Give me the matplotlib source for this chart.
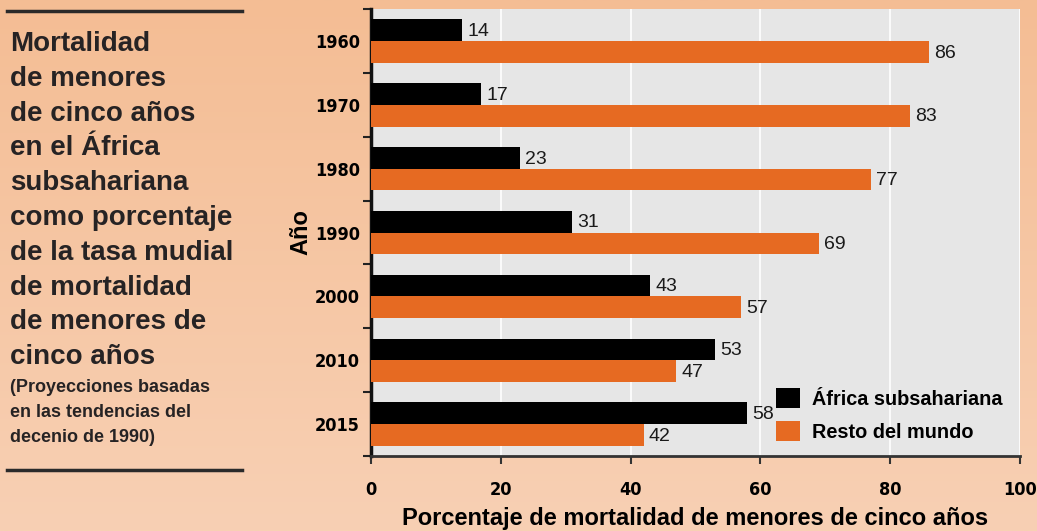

# grafico_mortalidad.py
# Mortalidad de menores de cinco años - Africa subsahariana vs resto del mundo

import numpy as np
import matplotlib.pyplot as plt
from matplotlib.colors import LinearSegmentedColormap

# --------------------------------------------------
# Datos
# --------------------------------------------------
anios = ["1960", "1970", "1980", "1990", "2000", "2010", "2015"]
africa = [14, 17, 23, 31, 43, 53, 58]
resto_mundo = [86, 83, 77, 69, 57, 47, 42]
ticks_x = [0, 20, 40, 60, 80, 100]

color_negro = "#000000"
color_naranja = "#E66A22"
fuente = ["Liberation Sans", "DejaVu Sans"]

fig = plt.figure(figsize=(10.37, 5.31), dpi=100)

# Fondo con degradado suave (mas oscuro arriba)
fondo = fig.add_axes([0, 0, 1, 1], zorder=-10)
cmap = LinearSegmentedColormap.from_list("fondo", ["#F4BD94", "#F8D0B4"])
fondo.imshow(np.linspace(0, 1, 256).reshape(-1, 1), aspect="auto", cmap=cmap,
             extent=[0, 1, 0, 1])
fondo.axis("off")

# --------------------------------------------------
# Grafico de barras horizontales
# --------------------------------------------------
ax = fig.add_axes([0.3578, 0.1412, 0.6258, 0.8418])
ax.set_facecolor("#E6E6E6")

y = np.arange(len(anios))
alto = 0.34
barras_af = ax.barh(y - alto / 2, africa, height=alto, color=color_negro, zorder=3)
barras_rm = ax.barh(y + alto / 2, resto_mundo, height=alto, color=color_naranja, zorder=3)

# Etiquetas con el valor al final de cada barra
for barras, valores in [(barras_af, africa), (barras_rm, resto_mundo)]:
    for b, v in zip(barras, valores):
        ax.text(v + 0.8, b.get_y() + b.get_height() / 2 + 0.02, str(v),
                va="center", ha="left", fontsize=14, family=fuente, color="#1A1A1A", zorder=4)

ax.set_xlim(0, 100)
ax.set_ylim(len(anios) - 0.5, -0.5)

# Lineas verticales blancas
ax.set_xticks(ticks_x)
ax.grid(axis="x", color="white", linewidth=1.2, zorder=1)
ax.set_xticklabels([str(t) for t in ticks_x], fontsize=13, fontweight="bold",
                   family="DejaVu Sans", fontstretch="condensed")

# Ticks del eje y: etiquetas al centro, marcas entre grupos
ax.set_yticks(y)
ax.set_yticklabels(anios, fontsize=13, fontweight="bold", family="DejaVu Sans",
                   fontstretch="condensed")
ax.tick_params(axis="y", which="major", length=0, pad=8)
ax.set_yticks(np.arange(-0.5, len(anios), 1), minor=True)
ax.tick_params(axis="y", which="minor", length=6, width=1.5, color="#222222")
ax.tick_params(axis="x", length=6, width=1.5, color="#333333", pad=12)

for lado in ["top", "right"]:
    ax.spines[lado].set_visible(False)
ax.spines["left"].set_linewidth(2.5)
ax.spines["left"].set_color("#111111")
ax.spines["bottom"].set_linewidth(2)
ax.spines["bottom"].set_color("#333333")

ax.set_ylabel("Año", fontsize=17, fontweight="bold", family=fuente, labelpad=2)
ax.set_xlabel("Porcentaje de mortalidad de menores de cinco años", fontsize=17,
              fontweight="bold", family=fuente, labelpad=6)

# Leyenda
ax.legend([barras_af, barras_rm], ["África subsahariana", "Resto del mundo"],
          loc="lower right", bbox_to_anchor=(1.0, -0.008), frameon=False,
          prop={"family": fuente, "weight": "bold", "size": 14.3},
          handlelength=1.2, handleheight=1.2, handletextpad=0.6, labelspacing=0.6)

# --------------------------------------------------
# Texto del panel izquierdo
# --------------------------------------------------
fig.add_artist(plt.Line2D([7 / 1037, 242 / 1037], [1 - 11 / 531, 1 - 11 / 531],
                          color="#2A2A2A", linewidth=2.5))
fig.add_artist(plt.Line2D([7 / 1037, 242 / 1037], [1 - 470 / 531, 1 - 470 / 531],
                          color="#2A2A2A", linewidth=2.5))

titulo = ["Mortalidad", "de menores", "de cinco años", "en el África", "subsahariana",
          "como porcentaje", "de la tasa mudial", "de mortalidad", "de menores de",
          "cinco años"]
for i, linea in enumerate(titulo):
    fig.text(10 / 1037, 1 - (44 + i * 34.8) / 531, linea, fontsize=20, fontweight="bold",
             family=fuente, color="#262324", va="center")

nota = ["(Proyecciones basadas", "en las tendencias del", "decenio de 1990)"]
for i, linea in enumerate(nota):
    fig.text(10 / 1037, 1 - (388 + i * 24.5) / 531, linea, fontsize=13, fontweight="bold",
             family=fuente, color="#262324", va="center")

plt.savefig("out.png", dpi=100)
print("Grafico guardado en out.png")
